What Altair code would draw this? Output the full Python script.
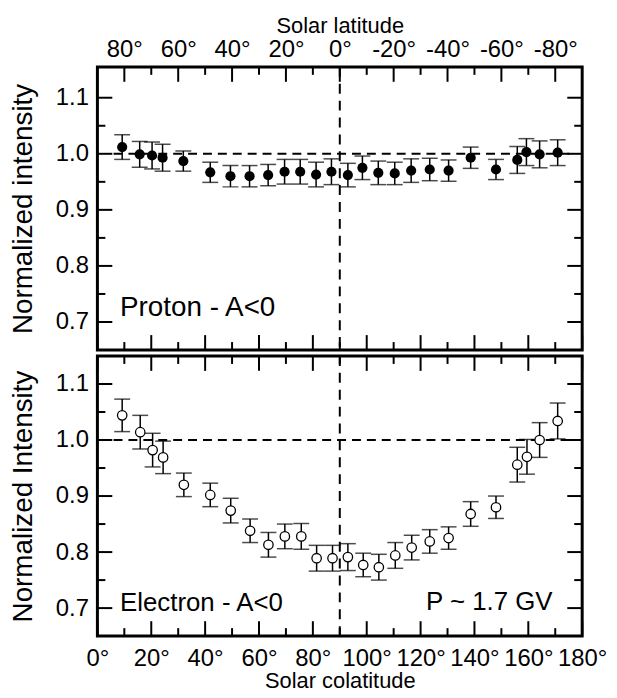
import altair as alt
import pandas as pd

# ---- data ----
proton_colat = [9.2, 15.7, 20.3, 24.2, 31.9, 41.9, 49.4, 56.5, 63.4, 69.5, 75.3, 81.2, 86.9,
                93.0, 98.4, 104.3, 110.4, 116.5, 123.4, 130.4, 138.6, 148.0, 155.9, 159.3, 164.2, 170.9]
proton_val = [1.012, 0.999, 0.997, 0.993, 0.987, 0.967, 0.960, 0.960, 0.962, 0.968, 0.968, 0.963, 0.968,
              0.962, 0.975, 0.966, 0.965, 0.970, 0.972, 0.970, 0.993, 0.972, 0.989, 1.003, 0.999, 1.002]
proton_err = [0.022, 0.023, 0.024, 0.024, 0.018, 0.018, 0.019, 0.019, 0.019, 0.022, 0.022, 0.022, 0.023,
              0.021, 0.021, 0.021, 0.020, 0.021, 0.020, 0.019, 0.019, 0.018, 0.024, 0.024, 0.024, 0.023]

electron_colat = [9.2, 15.9, 20.5, 24.4, 32.1, 41.9, 49.5, 56.7, 63.5, 69.6, 75.7, 81.4, 87.3,
                  93.0, 98.7, 104.5, 110.6, 116.7, 123.4, 130.4, 138.6, 148.0, 155.9, 159.5, 164.2, 170.9]
electron_val = [1.044, 1.014, 0.982, 0.969, 0.920, 0.902, 0.874, 0.838, 0.813, 0.828, 0.828, 0.789, 0.789,
                0.791, 0.777, 0.773, 0.794, 0.808, 0.819, 0.825, 0.868, 0.880, 0.956, 0.970, 1.000, 1.034]
electron_err = [0.029, 0.030, 0.030, 0.029, 0.021, 0.021, 0.022, 0.021, 0.022, 0.022, 0.023, 0.023, 0.023,
                0.024, 0.021, 0.023, 0.023, 0.022, 0.021, 0.020, 0.022, 0.020, 0.031, 0.031, 0.031, 0.032]

x_major = [0, 20, 40, 60, 80, 100, 120, 140, 160, 180]
x_minor = [10, 30, 50, 70, 90, 110, 130, 150, 170]
lat_major = [10, 30, 50, 70, 90, 110, 130, 150, 170]   # colatitudes of latitude labels
lat_minor = [20, 40, 60, 80, 100, 120, 140, 160]
y_major = [0.7, 0.8, 0.9, 1.0, 1.1]
y_minor = [0.75, 0.85, 0.95, 1.05]

W = 488
H_TOP = 285
H_BOT = 282
FONT = "Liberation Sans"
MAJ = 15
MIN = 8

xscale = alt.Scale(domain=[0, 180], nice=False, zero=False)


def yscale(top):
    return alt.Scale(domain=[0.65, top], nice=False, zero=False)


def panel(colat, val, err, filled, H, ys, ytitle, xaxis, top_major, top_minor, texts):
    yaxis = alt.Axis(values=y_major, format=".1f", title=ytitle, labelPadding=9,
                     titlePadding=18, titleFontSize=28, labelFlush=False, labelOverlap=False)

    def X(f):
        return alt.X(f, type="quantitative", scale=xscale, axis=xaxis)

    def Y(f):
        return alt.Y(f, type="quantitative", scale=ys, axis=yaxis)

    df = pd.DataFrame({"colat": colat, "val": val, "err": err})
    base = alt.Chart(df).transform_calculate(
        lo="datum.val - datum.err", hi="datum.val + datum.err")
    bars = base.mark_rule(color="black", strokeWidth=1.5).encode(
        x=X("colat"), y=Y("lo"), y2="hi:Q")
    cap_lo = base.mark_tick(color="black", orient="horizontal", size=16, thickness=1.5).encode(
        x=X("colat"), y=Y("lo"))
    cap_hi = base.mark_tick(color="black", orient="horizontal", size=16, thickness=1.5).encode(
        x=X("colat"), y=Y("hi"))
    if filled:
        pts = base.mark_point(shape="circle", filled=True, color="black", size=105, opacity=1)
    else:
        pts = base.mark_point(shape="circle", filled=True, fill="white", stroke="black",
                              strokeWidth=1.3, size=90, opacity=1)
    pts = pts.encode(x=X("colat"), y=Y("val"))
    hline = alt.Chart(pd.DataFrame({"x0": [6], "x1": [176], "y": [1.0]})).mark_rule(
        color="black", strokeWidth=2, strokeDash=[9, 6]).encode(
        x=X("x0"), x2="x1:Q", y=Y("y"))
    vline = alt.Chart(pd.DataFrame({"x": [90]})).mark_rule(
        color="black", strokeWidth=2, strokeDash=[10, 7]).encode(
        x=X("x"), y=alt.value(0), y2=alt.value(H))
    text_layers = []
    for (tx, ty, label, align, fs) in texts:
        text_layers.append(alt.Chart(pd.DataFrame({"x": [tx], "y": [ty], "t": [label]})).mark_text(
            align=align, baseline="alphabetic", fontSize=fs, font=FONT, color="black").encode(
            x=X("x"), y=Y("y"), text="t:N"))
    ticks = []
    for vals, L in ((x_major, MAJ), (x_minor, MIN)):
        d = pd.DataFrame({"x": vals})
        ticks.append(alt.Chart(d).mark_rule(color="black", strokeWidth=2).encode(
            x=X("x"), y=alt.value(H), y2=alt.value(H - L)))
    for vals, L in ((top_major, MAJ), (top_minor, MIN)):
        d = pd.DataFrame({"x": vals})
        ticks.append(alt.Chart(d).mark_rule(color="black", strokeWidth=2).encode(
            x=X("x"), y=alt.value(0), y2=alt.value(L)))
    for vals, L in ((y_major, MAJ), (y_minor, MIN)):
        d = pd.DataFrame({"y": vals})
        ticks.append(alt.Chart(d).mark_rule(color="black", strokeWidth=2).encode(
            y=Y("y"), x=alt.value(0), x2=alt.value(L)))
        ticks.append(alt.Chart(d).mark_rule(color="black", strokeWidth=2).encode(
            y=Y("y"), x=alt.value(W), x2=alt.value(W - L)))
    layers = [bars, hline, vline, cap_lo, cap_hi, pts] + text_layers + ticks
    return alt.layer(*layers).properties(width=W, height=H)


top_axis = alt.Axis(orient="top", values=lat_major, labelExpr="(90 - datum.value) + '°'",
                    title="Solar latitude", labelPadding=5, titlePadding=1,
                    labelFlush=False, labelOverlap=False)
bot_axis = alt.Axis(orient="bottom", values=x_major, labelExpr="datum.value + '°'",
                    title="Solar colatitude", labelPadding=11, titlePadding=0,
                    labelFlush=False, labelOverlap=False)

top = panel(proton_colat, proton_val, proton_err, True, H_TOP, yscale(1.155),
            "Normalized intensity", top_axis, lat_major, lat_minor,
            [(8.4, 0.71, "Proton - A<0", "left", 28)])
bottom = panel(electron_colat, electron_val, electron_err, False, H_BOT, yscale(1.15),
               "Normalized Intensity", bot_axis, x_major, x_minor,
               [(8.4, 0.6945, "Electron - A<0", "left", 26), (169, 0.697, "P ~ 1.7 GV", "right", 26)])

chart = alt.vconcat(top, bottom, spacing=0).properties(
    padding={"left": 0, "top": 2, "right": 0, "bottom": 0}, background="white"
).configure_view(stroke="black", strokeWidth=3).configure_axis(
    labelFont=FONT, titleFont=FONT, labelFontSize=24, titleFontSize=22,
    labelColor="black", titleColor="black", titleFontWeight="normal",
    ticks=False, domain=False, grid=False
)

chart.save("out.html", embed_options={"renderer": "svg", "actions": False})
